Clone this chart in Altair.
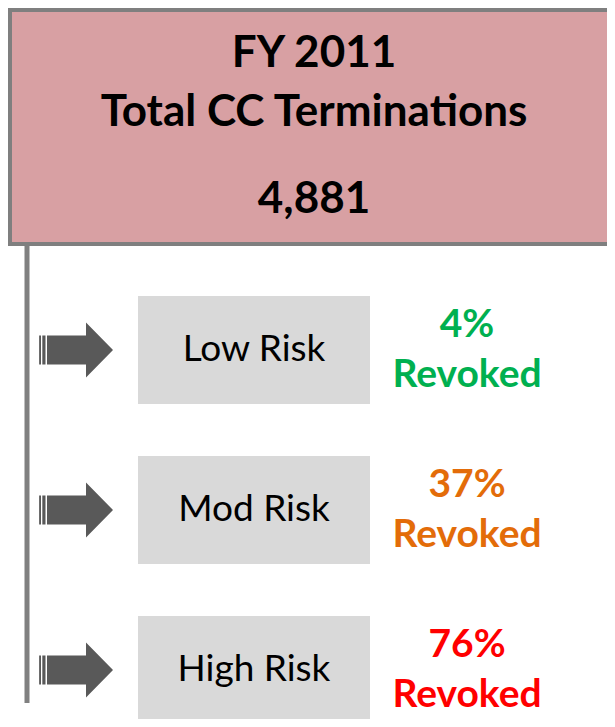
import altair as alt
import pandas as pd

# ---- data ----
risk_levels = ["Low Risk", "Mod Risk", "High Risk"]
revoked_pct = [4, 37, 76]
pct_colors = ["#00B050", "#E36C09", "#FF0000"]
title_lines = ["FY 2011", "Total CC Terminations"]
total_terminations = 4881

# ---- layout (page pixel coordinates) ----
W, H = 599, 711
X0, Y0 = 8, 8
ROW0, ROW_STEP = 350, 160
FONT = "Lato"

rows = pd.DataFrame({
    "risk": risk_levels,
    "pct": [f"{p}%" for p in revoked_pct],
    "color": pct_colors,
    "idx": list(range(len(risk_levels))),
})
rows["yc"] = ROW0 + ROW_STEP * rows["idx"]
rows["ytop"] = rows["yc"] - 54
rows["ybot"] = rows["yc"] + 54
rows["y_pct"] = rows["yc"] - 13
rows["y_rev"] = rows["yc"] + 37
rows["revoked"] = "Revoked"

xs = alt.Scale(domain=[X0, X0 + W], range=[0, W])
ys = alt.Scale(domain=[Y0, Y0 + H], range=[0, H])

def X(f, **kw):
    return alt.X(f, type="quantitative", scale=xs, axis=None, **kw)

def Y(f, **kw):
    return alt.Y(f, type="quantitative", scale=ys, axis=None, **kw)

top = pd.DataFrame({"x": [10], "x2": [640], "y": [10], "y2": [244]})
top_box = alt.Chart(top).mark_rect(
    fill="#D8A0A3", stroke="#7F7F7F", strokeWidth=4, clip=True
).encode(x=X("x"), x2="x2", y=Y("y"), y2="y2")

titles = pd.DataFrame({
    "text": title_lines + [f"{total_terminations:,}"],
    "y": [67, 126, 213],
})
title_text = alt.Chart(titles).mark_text(
    font=FONT, fontSize=44, fontWeight="bold", color="#000000",
    align="center", baseline="alphabetic"
).encode(x=alt.value(314 - X0), y=Y("y"), text="text:N")

vline = pd.DataFrame({"x": [27], "y": [246], "y2": [703]})
vrule = alt.Chart(vline).mark_rule(color="#808080", strokeWidth=5).encode(
    x=X("x"), y=Y("y"), y2="y2"
)

arrow_path = (
    "M-0.97,-0.387 L-0.92,-0.387 L-0.92,0.387 L-0.97,0.387 Z "
    "M-0.885,-0.387 L-0.8,-0.387 L-0.8,0.387 L-0.885,0.387 Z "
    "M-0.76,-0.387 L0.28,-0.387 L0.28,-0.733 L1,0 L0.28,0.733 L0.28,0.387 L-0.76,0.387 Z"
)
arrows = alt.Chart(rows).mark_point(
    shape=arrow_path, size=5625, filled=True, fill="#595959",
    strokeWidth=0, opacity=1
).encode(x=alt.value(75.5 - X0), y=Y("yc"))

boxes = alt.Chart(rows).mark_rect(fill="#D9D9D9", clip=True).encode(
    x=alt.value(138 - X0), x2=alt.value(370 - X0), y=Y("ytop"), y2="ybot"
)

box_labels = alt.Chart(rows).mark_text(
    font=FONT, fontSize=37, color="#000000", align="center", baseline="middle"
).encode(x=alt.value(254 - X0), y=Y("yc"), text="risk:N")

pct_text = alt.Chart(rows).mark_text(
    font=FONT, fontSize=39, fontWeight="bold", align="center", baseline="alphabetic"
).encode(
    x=alt.value(467 - X0), y=Y("y_pct"), text="pct:N",
    color=alt.Color("color:N", scale=None),
)
rev_text = alt.Chart(rows).mark_text(
    font=FONT, fontSize=39, fontWeight="bold", align="center", baseline="alphabetic"
).encode(
    x=alt.value(467 - X0), y=Y("y_rev"), text="revoked:N",
    color=alt.Color("color:N", scale=None),
)

chart = alt.layer(
    top_box, title_text, vrule, arrows, boxes, box_labels, pct_text, rev_text
).properties(
    width=W, height=H, padding=0, autosize=alt.AutoSizeParams(type="none")
).configure_view(stroke=None)

chart.save("out.html", embed_options={"renderer": "svg", "actions": False})
